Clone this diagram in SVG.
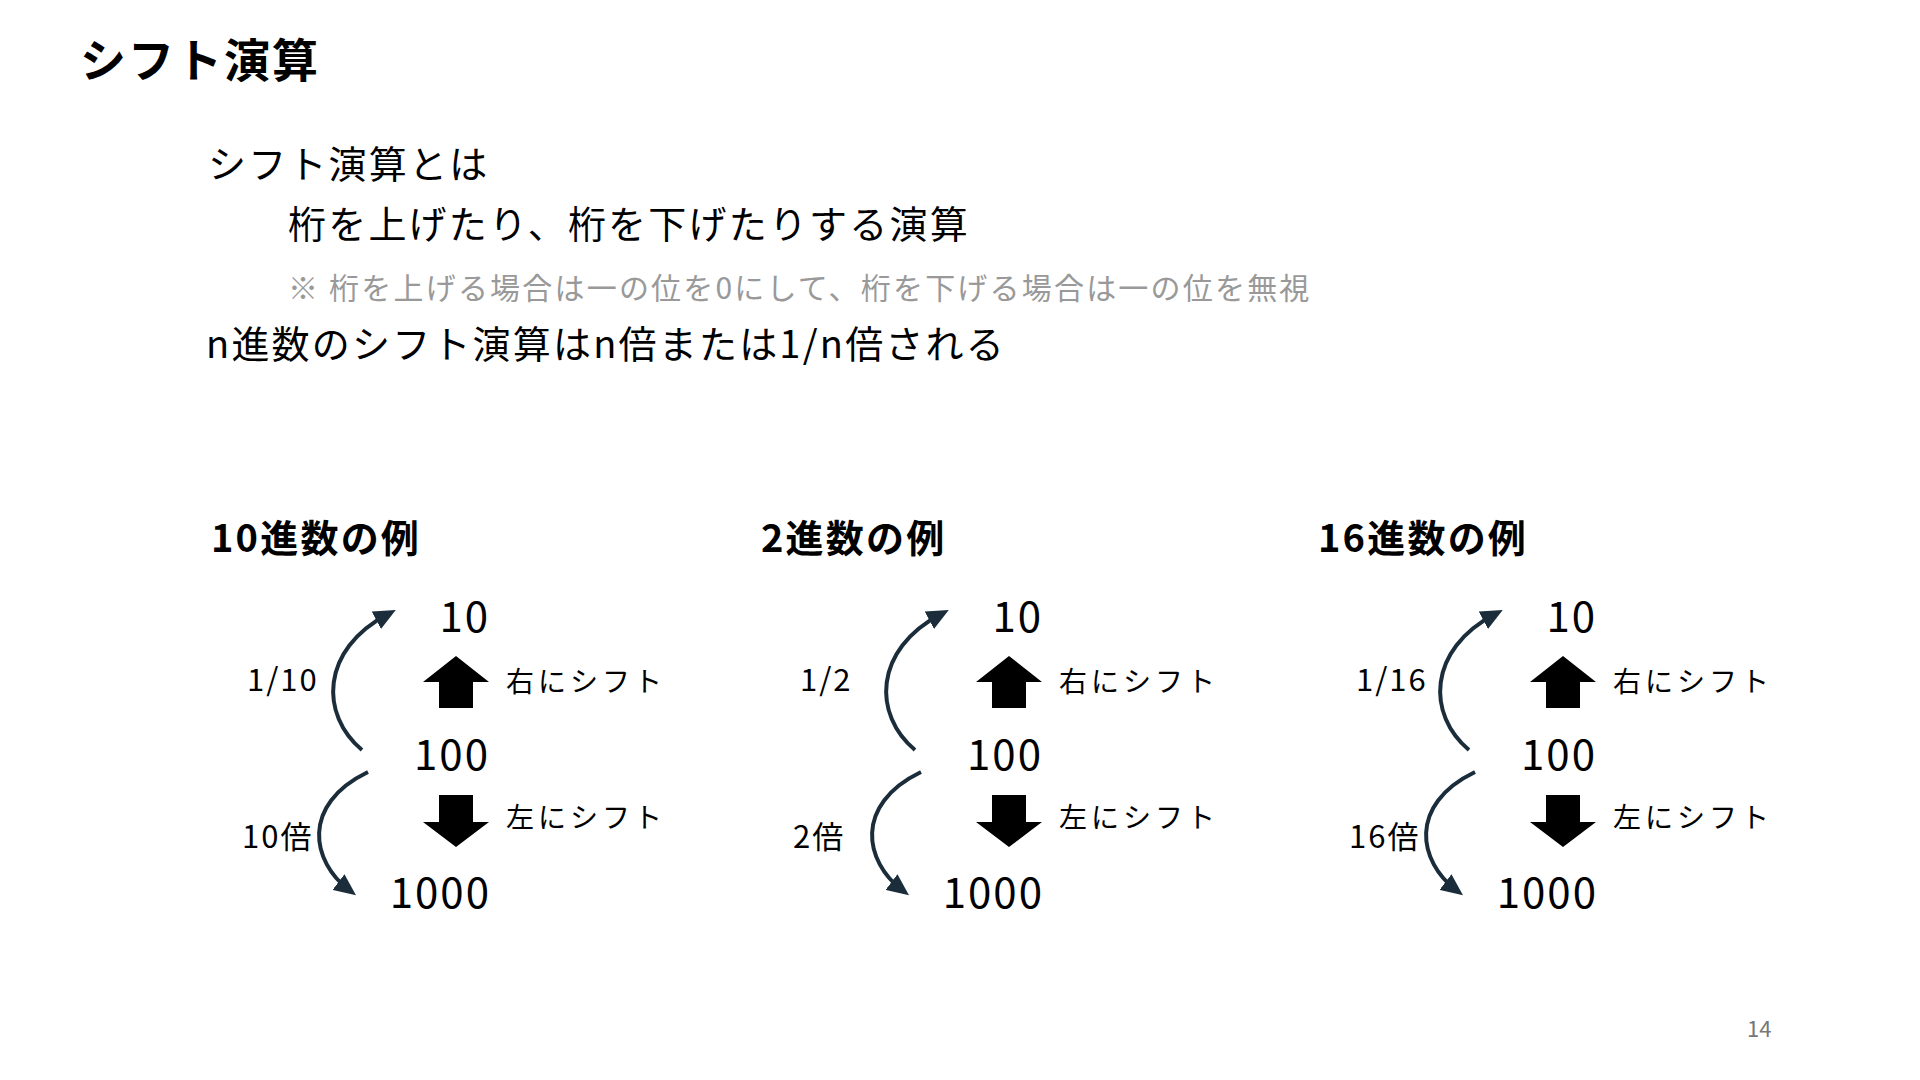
<svg xmlns="http://www.w3.org/2000/svg" width="1920" height="1080" viewBox="0 0 1920 1080">
  <style>
    text { font-family: 'Noto Sans CJK JP', 'Noto Sans', sans-serif; fill: #000; }
    .title { font-size: 46px; font-weight: 700; letter-spacing: 2px; }
    .body { font-size: 38px; letter-spacing: 2.2px; }
    .note { font-size: 30px; letter-spacing: 2.2px; fill: #999; }
    .head { font-size: 38px; font-weight: 700; letter-spacing: 2.2px; }
    .num { font-size: 42px; letter-spacing: 2px; text-anchor: end; }
    .shift { font-size: 28px; letter-spacing: 4px; }
    .lbl { font-size: 31px; letter-spacing: 2px; }
    .page { font-size: 22px; fill: #777; }
    .curve { fill: none; stroke: #1b2d3a; stroke-width: 4; marker-end: url(#ah); }
    .blk { fill: #000; }
  </style>
  <defs>
    <marker id="ah" markerUnits="userSpaceOnUse" markerWidth="22" markerHeight="20" viewBox="0 0 20 18" refX="12" refY="9" orient="auto">
      <path d="M0,0 L20,9 L0,18 Z" fill="#1b2d3a"/>
    </marker>
    <g id="ex">
      <path class="blk" d="M456,656 L489,682 L473,682 L473,708 L439,708 L439,682 L423,682 Z"/>
      <path class="blk" d="M439,795 L473,795 L473,822 L489,822 L456,847 L423,822 L439,822 Z"/>
    </g>
  </defs>
  <rect width="1920" height="1080" fill="#fff"/>

  <text class="title" x="80" y="77">シフト演算</text>
  <text class="body" x="208" y="178">シフト演算とは</text>
  <text class="body" x="288" y="238">桁を上げたり、桁を下げたりする演算</text>
  <text class="note" x="288" y="299">※ 桁を上げる場合は一の位を0にして、桁を下げる場合は一の位を無視</text>
  <text class="body" x="206" y="358">n進数のシフト演算はn倍または1/n倍される</text>

  <text class="head" x="211" y="552">10進数の例</text>
  <text class="head" x="761" y="552">2進数の例</text>
  <text class="head" x="1318" y="552">16進数の例</text>

  <g id="connectors">
    <g transform="translate(0,0)">
      <path class="curve" d="M362,750 C320,715 320,650 388,614"/>
      <path class="curve" d="M368,772 C300,805 312,862 349,890"/>
    </g>
    <g transform="translate(553,0)">
      <path class="curve" d="M362,750 C320,715 320,650 388,614"/>
      <path class="curve" d="M368,772 C300,805 312,862 349,890"/>
    </g>
    <g transform="translate(1107,0)">
      <path class="curve" d="M362,750 C320,715 320,650 388,614"/>
      <path class="curve" d="M368,772 C300,805 312,862 349,890"/>
    </g>
  </g>

  <g id="example-10" transform="translate(0,0)">
    <g id="n10-10"><text class="num" x="490" y="632">10</text></g>
    <g id="n10-100"><text class="num" x="490" y="770">100</text></g>
    <g id="n10-1000"><text class="num" x="491" y="908">1000</text></g>
    <use href="#ex"/>
    <text class="shift" x="506" y="692">右にシフト</text>
    <text class="shift" x="506" y="828">左にシフト</text>
    <text class="lbl" x="247" y="691">1/10</text>
    <text class="lbl" x="242" y="848">10倍</text>
  </g>

  <g id="example-2" transform="translate(553,0)">
    <g id="n2-10"><text class="num" x="490" y="632">10</text></g>
    <g id="n2-100"><text class="num" x="490" y="770">100</text></g>
    <g id="n2-1000"><text class="num" x="491" y="908">1000</text></g>
    <use href="#ex"/>
    <text class="shift" x="506" y="692">右にシフト</text>
    <text class="shift" x="506" y="828">左にシフト</text>
    <text class="lbl" x="247" y="691">1/2</text>
    <text class="lbl" x="240" y="848">2倍</text>
  </g>

  <g id="example-16" transform="translate(1107,0)">
    <g id="n16-10"><text class="num" x="490" y="632">10</text></g>
    <g id="n16-100"><text class="num" x="490" y="770">100</text></g>
    <g id="n16-1000"><text class="num" x="491" y="908">1000</text></g>
    <use href="#ex"/>
    <text class="shift" x="506" y="692">右にシフト</text>
    <text class="shift" x="506" y="828">左にシフト</text>
    <text class="lbl" x="249" y="691">1/16</text>
    <text class="lbl" x="242" y="848">16倍</text>
  </g>

  <text class="page" x="1747" y="1037">14</text>
</svg>
